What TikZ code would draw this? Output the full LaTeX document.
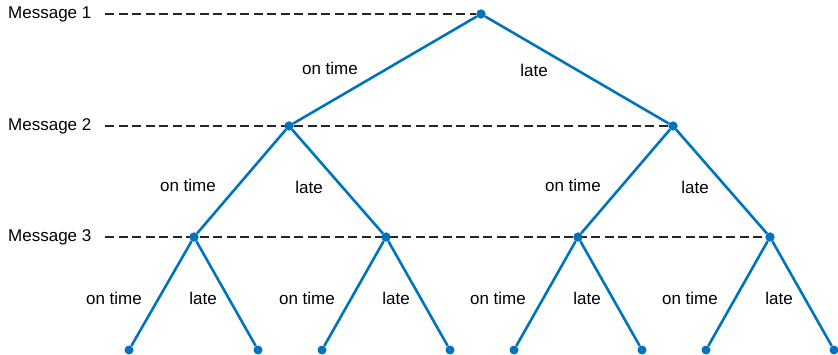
\documentclass[tikz,border=0pt]{standalone}
\usepackage{fontspec}
\setmainfont{Liberation Sans}
\usetikzlibrary{positioning}
\definecolor{treeblue}{RGB}{0,115,190}

\begin{document}
\begin{tikzpicture}[x=1pt, y=-1pt,
	dot/.style={circle, fill=treeblue, inner sep=0pt, minimum size=9pt},
	branch/.style={treeblue, line width=2.6pt},
	guide/.style={dash pattern=on 9pt off 4.5pt, line width=1.2pt, black!85},
	lbl/.style={font=\fontsize{17}{20}\selectfont, inner sep=0pt}]
	\useasboundingbox (0,0) rectangle (838,355);
	% Tree nodes
	\node[dot] (r) at (481,14) {};
	\node[dot] (a) at (289,126) {};
	\node[dot] (b) at (673,126) {};
	\node[dot] (aa) at (194,237) {};
	\node[dot] (ab) at (386,237) {};
	\node[dot] (ba) at (578,237) {};
	\node[dot] (bb) at (770,237) {};
	\foreach \name/\x in {aaa/129, aab/258, aba/322, abb/450, baa/514, bab/642, bba/706, bbb/834}
		\node[dot] (\name) at (\x,350) {};
	% Message levels
	\node[lbl, anchor=west] (m1) at (8,14) {Message 1};
	\node[lbl, anchor=west] (m2) at (8,126) {Message 2};
	\node[lbl, anchor=west] (m3) at (8,237) {Message 3};
	\draw[guide] (105,14) coordinate (g1) -- (r);
	\draw[guide] (105,126) coordinate (g2) -- (b);
	\draw[guide] (105,237) coordinate (g3) -- (bb);
	% Branches
	\draw[branch] (a) -- (r) -- (b);
	\draw[branch] (aa) -- (a) -- (ab);
	\draw[branch] (ba) -- (b) -- (bb);
	\draw[branch] (aaa) -- (aa) -- (aab);
	\draw[branch] (aba) -- (ab) -- (abb);
	\draw[branch] (baa) -- (ba) -- (bab);
	\draw[branch] (bba) -- (bb) -- (bbb);
	% redraw dots on top
	\foreach \name in {r,a,b,aa,ab,ba,bb}
		\fill[treeblue] (\name) circle (4.5pt);
	% Labels
	\node[lbl] (t1) at (330,68) {on time};
	\node[lbl] (l1) at (534,70) {late};
	\node[lbl] (t2) at (188,185) {on time};
	\node[lbl] (l2) at (309,187) {late};
	\node[lbl] (t3) at (573,185) {on time};
	\node[lbl] (l3) at (695,187) {late};
	\foreach \x in {114,307,498,690}
		\node[lbl] at (\x,298) {on time};
	\foreach \x in {203,396,587,779}
		\node[lbl] at (\x,298) {late};
\end{tikzpicture}
\end{document}
